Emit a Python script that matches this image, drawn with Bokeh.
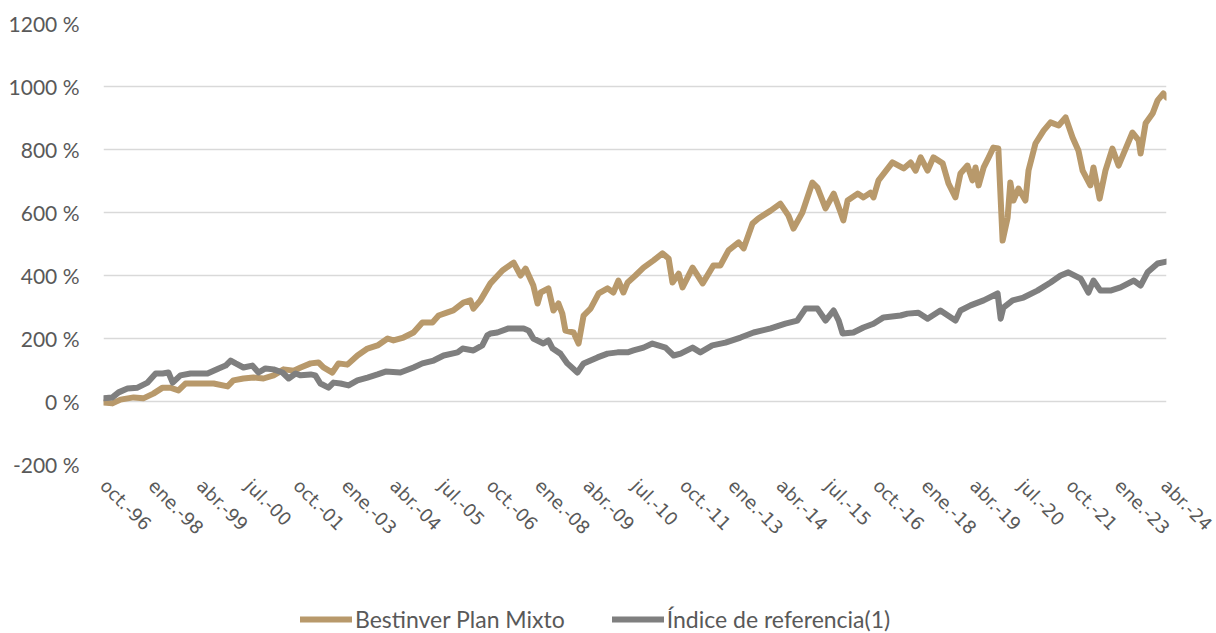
import math
from bokeh.plotting import figure
from bokeh.layouts import column
from bokeh.models import FixedTicker, Legend, LegendItem, Range1d
from bokeh.embed import file_html
from bokeh.resources import INLINE

# ---- data (decimal years, cumulative return in %) ----
fund_years = [1996.75, 1996.98, 1997.19, 1997.53, 1997.78, 1998.04, 1998.28, 1998.48, 1998.69, 1998.87,
              1999.18, 1999.60, 1999.96, 2000.11, 2000.37, 2000.63, 2000.89, 2001.15, 2001.41, 2001.67,
              2001.85, 2002.11, 2002.31, 2002.44, 2002.67, 2002.83, 2003.06, 2003.32, 2003.58, 2003.84,
              2004.10, 2004.25, 2004.51, 2004.77, 2005.00, 2005.26, 2005.42, 2005.65, 2005.80, 2006.06,
              2006.24, 2006.32, 2006.50, 2006.76, 2007.07, 2007.36, 2007.54, 2007.67, 2007.87, 2007.98,
              2008.06, 2008.26, 2008.39, 2008.52, 2008.62, 2008.70, 2008.91, 2009.04, 2009.17, 2009.35,
              2009.56, 2009.79, 2009.94, 2010.07, 2010.20, 2010.31, 2010.51, 2010.72, 2010.98, 2011.21,
              2011.37, 2011.47, 2011.63, 2011.73, 2011.99, 2012.25, 2012.53, 2012.71, 2012.92, 2013.18,
              2013.31, 2013.54, 2013.69, 2014.01, 2014.26, 2014.47, 2014.60, 2014.83, 2015.09, 2015.22,
              2015.43, 2015.64, 2015.82, 2015.89, 2016.00, 2016.26, 2016.41, 2016.59, 2016.67, 2016.80,
              2017.16, 2017.45, 2017.63, 2017.76, 2017.89, 2018.07, 2018.22, 2018.46, 2018.61, 2018.79,
              2018.92, 2019.10, 2019.23, 2019.31, 2019.39, 2019.52, 2019.65, 2019.77, 2019.90, 2020.01,
              2020.14, 2020.21, 2020.29, 2020.42, 2020.60, 2020.68, 2020.86, 2021.07, 2021.25, 2021.46,
              2021.64, 2021.82, 2021.97, 2022.08, 2022.28, 2022.36, 2022.52, 2022.67, 2022.85, 2023.01,
              2023.14, 2023.37, 2023.53, 2023.58, 2023.71, 2023.89, 2024.02, 2024.17, 2024.25]
fund_values = [-3, -6, 6, 13, 10, 25, 44, 44, 35, 57,
               57, 57, 48, 67, 73, 76, 73, 83, 102, 98,
               108, 121, 124, 108, 92, 121, 117, 146, 168, 178,
               200, 194, 203, 219, 251, 251, 273, 283, 289, 314,
               321, 295, 321, 375, 416, 441, 400, 422, 368, 311,
               346, 359, 289, 311, 279, 225, 219, 184, 273, 295,
               343, 359, 346, 384, 346, 378, 400, 425, 448, 470,
               454, 378, 406, 362, 425, 375, 432, 432, 480, 505,
               486, 565, 581, 606, 628, 590, 549, 600, 695, 679,
               613, 660, 600, 575, 638, 660, 648, 663, 648, 702,
               759, 740, 759, 733, 775, 733, 775, 756, 692, 648,
               724, 749, 702, 743, 686, 743, 775, 806, 803, 511,
               584, 695, 638, 676, 638, 733, 819, 860, 886, 876,
               902, 838, 797, 733, 686, 743, 644, 733, 803, 749,
               787, 854, 829, 787, 883, 914, 956, 978, 965]

index_years = [1996.75, 1996.98, 1997.14, 1997.37, 1997.63, 1997.89, 1998.10, 1998.28, 1998.43, 1998.54,
               1998.74, 1999.00, 1999.44, 1999.73, 1999.91, 2000.04, 2000.17, 2000.37, 2000.60, 2000.76,
               2000.94, 2001.15, 2001.38, 2001.54, 2001.72, 2001.85, 2002.11, 2002.23, 2002.36, 2002.57,
               2002.70, 2002.88, 2003.09, 2003.32, 2003.58, 2003.84, 2004.05, 2004.43, 2004.77, 2005.00,
               2005.29, 2005.55, 2005.91, 2006.04, 2006.32, 2006.55, 2006.68, 2006.76, 2006.94, 2007.23,
               2007.62, 2007.75, 2007.87, 2008.13, 2008.26, 2008.37, 2008.57, 2008.75, 2009.01, 2009.17,
               2009.53, 2009.79, 2010.05, 2010.31, 2010.46, 2010.72, 2010.95, 2011.29, 2011.50, 2011.68,
               2011.99, 2012.19, 2012.50, 2012.84, 2013.23, 2013.57, 2014.01, 2014.39, 2014.70, 2014.91,
               2015.22, 2015.43, 2015.64, 2015.77, 2015.87, 2016.15, 2016.41, 2016.67, 2016.93, 2017.37,
               2017.55, 2017.83, 2018.07, 2018.40, 2018.79, 2018.92, 2019.18, 2019.52, 2019.88, 2019.96,
               2020.03, 2020.27, 2020.55, 2020.91, 2021.25, 2021.51, 2021.71, 2022.03, 2022.23, 2022.36,
               2022.54, 2022.80, 2023.06, 2023.40, 2023.58, 2023.76, 2024.02, 2024.25]
index_values = [10, 13, 29, 41, 44, 60, 89, 89, 92, 60,
                83, 89, 89, 105, 114, 130, 121, 108, 114, 92,
                105, 102, 92, 73, 89, 83, 86, 83, 57, 44,
                60, 57, 51, 67, 76, 86, 95, 92, 108, 121,
                130, 146, 156, 168, 162, 178, 210, 216, 219, 232,
                232, 225, 200, 184, 194, 168, 152, 121, 92, 121,
                140, 152, 156, 156, 162, 171, 184, 171, 146, 152,
                171, 156, 178, 187, 203, 219, 232, 247, 257, 295,
                295, 257, 289, 257, 216, 219, 235, 247, 267, 273,
                279, 282, 263, 289, 257, 289, 305, 321, 343, 263,
                298, 321, 330, 352, 378, 400, 410, 390, 346, 384,
                352, 352, 362, 384, 368, 410, 438, 444]

tick_labels = ["oct.-96", "ene.-98", "abr.-99", "jul.-00", "oct.-01", "ene.-03", "abr.-04", "jul.-05",
               "oct.-06", "ene.-08", "abr.-09", "jul.-10", "oct.-11", "ene.-13", "abr.-14", "jul.-15",
               "oct.-16", "ene.-18", "abr.-19", "jul.-20", "oct.-21", "ene.-23", "abr.-24"]
tick_positions = [1996.75 + 1.25 * i for i in range(len(tick_labels))]
y_ticks = [-200, 0, 200, 400, 600, 800, 1000, 1200]

series_names = ["Bestinver Plan Mixto", "Índice de referencia(1)"]
series_colors = ["#B8996B", "#7F7F7F"]

# ---- main figure ----
p = figure(width=1216, height=600, output_backend="svg", toolbar_location=None,
           x_range=Range1d(1996.75, 2024.25), y_range=Range1d(-200, 1200),
           min_border_left=103, min_border_right=50, min_border_top=23, min_border_bottom=136)
p.outline_line_color = None
p.background_fill_color = "white"
p.border_fill_color = "white"

p.line(fund_years, fund_values, line_color=series_colors[0], line_width=6,
       line_join="round", line_cap="round")
p.line(index_years, index_values, line_color=series_colors[1], line_width=6,
       line_join="round", line_cap="round")

# grid
p.xgrid.visible = False
p.ygrid.ticker = FixedTicker(ticks=y_ticks)
p.ygrid.grid_line_color = "#D9D9D9"
p.ygrid.grid_line_width = 1.5

# y axis
p.yaxis.ticker = FixedTicker(ticks=y_ticks)
p.yaxis.major_label_overrides = {t: f"{t} %" for t in y_ticks}
p.yaxis.axis_line_color = None
p.yaxis.major_tick_line_color = None
p.yaxis.minor_tick_line_color = None
p.yaxis.major_tick_out = 0
p.yaxis.major_label_standoff = 24
p.yaxis.major_label_text_font = "Lato"
p.yaxis.major_label_text_font_size = "21px"
p.yaxis.major_label_text_color = "#595959"

# x axis
p.xaxis.ticker = FixedTicker(ticks=tick_positions)
p.xaxis.major_label_overrides = {t: l for t, l in zip(tick_positions, tick_labels)}
p.xaxis.axis_line_color = None
p.xaxis.major_tick_line_color = None
p.xaxis.minor_tick_line_color = None
p.xaxis.major_tick_out = 0
p.xaxis.major_label_standoff = 18
p.xaxis.major_label_orientation = -math.pi / 4
p.xaxis.major_label_text_font = "DejaVu Sans"
p.xaxis.major_label_text_font_size = "18px"
p.xaxis.major_label_text_color = "#595959"

# ---- legend strip (its frame is aligned with the main frame by the column) ----
lg = figure(width=1216, height=33, output_backend="svg", toolbar_location=None,
            x_range=Range1d(0, 1), y_range=Range1d(0, 1),
            min_border_left=0, min_border_right=0, min_border_top=0, min_border_bottom=0)
lg.axis.visible = False
lg.grid.visible = False
lg.outline_line_color = None
lg.border_fill_color = "white"
# proxies for the legend swatches (their data lie outside this strip's ranges)
g1 = lg.line(fund_years[:2], fund_values[:2], line_color=series_colors[0], line_width=6, line_cap="round")
g2 = lg.line(index_years[:2], index_values[:2], line_color=series_colors[1], line_width=6, line_cap="round")
legend = Legend(items=[LegendItem(label=series_names[0], renderers=[g1]),
                       LegendItem(label=series_names[1], renderers=[g2])],
                orientation="horizontal", location=(197, 0),
                glyph_width=52, glyph_height=24, label_height=24, label_standoff=3,
                spacing=47, padding=0, margin=0,
                border_line_color=None, background_fill_alpha=0,
                label_text_font="Lato", label_text_font_size="23px",
                label_text_color="#595959")
lg.add_layout(legend, "center")

layout = column(p, lg, spacing=0)
open("out.html", "w").write(file_html(layout, INLINE))
